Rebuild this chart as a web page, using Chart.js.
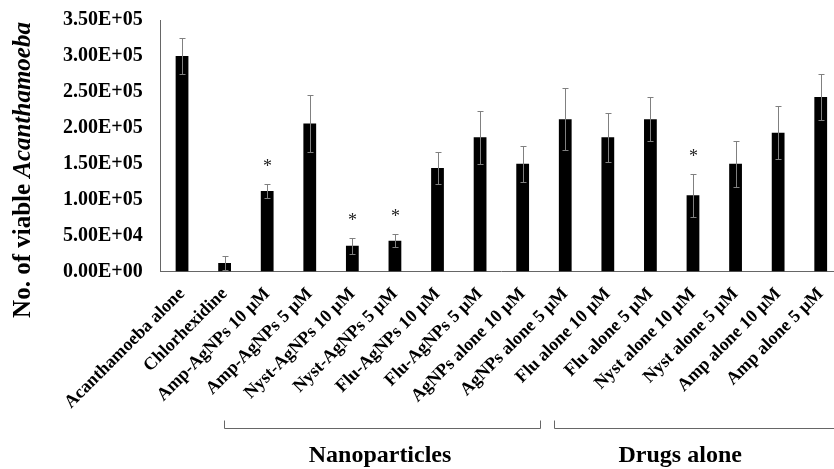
<!DOCTYPE html>
<html>
<head>
<meta charset="utf-8">
<script src="https://cdn.jsdelivr.net/npm/chart.js@4/dist/chart.umd.min.js"></script>
<style>
  html, body { margin: 0; padding: 0; background: #fff; overflow: hidden; width: 834px; height: 469px; }
  #wrap { width: 865px; height: 479px; margin-left: -17px; margin-top: -10px; }
</style>
</head>
<body>
<div id="wrap"><canvas id="c" width="865" height="479"></canvas></div>
<script>
const categories = [
  'Acanthamoeba alone', 'Chlorhexidine', 'Amp-AgNPs 10 µM', 'Amp-AgNPs 5 µM',
  'Nyst-AgNPs 10 µM', 'Nyst-AgNPs 5 µM', 'Flu-AgNPs 10 µM', 'Flu-AgNPs 5 µM',
  'AgNPs alone 10 µM', 'AgNPs alone 5 µM', 'Flu alone 10 µM', 'Flu alone 5 µM',
  'Nyst alone 10 µM', 'Nyst alone 5 µM', 'Amp alone 10 µM', 'Amp alone 5 µM'
];
const viableCounts = [300000, 12000, 112000, 206000, 36000, 43000, 144000, 187000,
                      150000, 212000, 187000, 212000, 106000, 150000, 193000, 243000];
const errorValues = [25000, 10000, 10000, 40000, 11000, 9000, 22000, 37000,
                     25000, 43000, 34000, 31000, 30000, 32000, 37000, 32000];
const significant = [false, false, true, false, true, true, false, false,
                     false, false, false, false, true, false, false, false];
const yTickLabels = ['0.00E+00', '5.00E+04', '1.00E+05', '1.50E+05',
                     '2.00E+05', '2.50E+05', '3.00E+05', '3.50E+05'];
const groupLabels = ['Nanoparticles', 'Drugs alone'];
const groupSpans = [[0.99, 8.41, 4.65], [8.73, 16.5, 11.7]]; // [from, to, text] in category units

const SERIF = '"Liberation Serif", "Times New Roman", serif';
const SHIFT_X = 17; // canvas is shifted left by this much inside the page
const SHIFT_Y = 10; // canvas is shifted up by this much inside the page

const extras = {
  id: 'extras',
  afterDatasetsDraw(chart) {
    const ctx = chart.ctx;
    const x = chart.scales.x, y = chart.scales.y;
    const step = x.getPixelForValue(1) - x.getPixelForValue(0);
    const px = i => x.getPixelForValue(0) + i * step;
    ctx.save();
    // error bars
    ctx.strokeStyle = '#808080';
    ctx.lineWidth = 1;
    viableCounts.forEach((v, i) => {
      const cx = Math.round(px(i)) + 0.5;
      const t = Math.round(y.getPixelForValue(v + errorValues[i])) + 0.5;
      const b = Math.round(y.getPixelForValue(v - errorValues[i])) + 0.5;
      ctx.beginPath();
      ctx.moveTo(cx, t); ctx.lineTo(cx, b);
      ctx.moveTo(cx - 3, t); ctx.lineTo(cx + 3, t);
      ctx.moveTo(cx - 3, b); ctx.lineTo(cx + 3, b);
      ctx.stroke();
      if (significant[i]) {
        ctx.fillStyle = '#222';
        ctx.font = '18px ' + SERIF;
        ctx.textAlign = 'center';
        ctx.textBaseline = 'middle';
        ctx.fillText('*', cx, t - 17);
      }
    });
    // brackets & group labels
    ctx.strokeStyle = '#666';
    groupSpans.forEach((s, g) => {
      const x0 = Math.round(px(s[0])) + 0.5, x1 = Math.round(px(s[1])) + 0.5;
      const yb = 428.5 + SHIFT_Y, yt = 420.5 + SHIFT_Y;
      ctx.beginPath();
      ctx.moveTo(x0, yt); ctx.lineTo(x0, yb); ctx.lineTo(x1, yb); ctx.lineTo(x1, yt);
      ctx.stroke();
      ctx.fillStyle = '#000';
      ctx.font = 'bold 24px ' + SERIF;
      ctx.textAlign = 'center';
      ctx.textBaseline = 'alphabetic';
      ctx.fillText(groupLabels[g], px(s[2]), 462 + SHIFT_Y);
    });
    // y title with italic genus
    ctx.translate(24 + SHIFT_X, 170 + SHIFT_Y);
    ctx.rotate(-Math.PI / 2);
    const p1 = 'No. of viable ', p2 = 'Acanthamoeba';
    const f1 = 'bold 25px ' + SERIF, f2 = 'italic bold 25px ' + SERIF;
    ctx.font = f1; const w1 = ctx.measureText(p1).width;
    ctx.font = f2; const w2 = ctx.measureText(p2).width;
    ctx.textBaseline = 'middle';
    ctx.textAlign = 'left';
    ctx.fillStyle = '#000';
    ctx.font = f1; ctx.fillText(p1, -(w1 + w2) / 2, 0);
    ctx.font = f2; ctx.fillText(p2, -(w1 + w2) / 2 + w1, 0);
    ctx.restore();
  }
};

new Chart(document.getElementById('c'), {
  type: 'bar',
  data: {
    labels: categories,
    datasets: [{
      data: viableCounts,
      backgroundColor: '#000',
      borderColor: '#000',
      borderWidth: 0,
      barPercentage: 0.3,
      categoryPercentage: 1.0
    }]
  },
  options: {
    responsive: false,
    animation: false,
    devicePixelRatio: 1,
    layout: { padding: { left: 62, right: 0, top: 0, bottom: 44 } },
    plugins: { legend: { display: false }, tooltip: { enabled: false } },
    scales: {
      x: {
        grid: { display: false, drawTicks: false },
        border: { display: true, color: '#666', width: 1 },
        ticks: {
          color: '#000',
          font: { family: SERIF, size: 18, weight: 'bold' },
          maxRotation: 45, minRotation: 45, autoSkip: false, padding: 12
        }
      },
      y: {
        min: 0, max: 350000,
        grid: { display: false, drawTicks: false },
        border: { display: true, color: '#666', width: 1 },
        ticks: {
          stepSize: 50000,
          color: '#000',
          padding: 18,
          font: { family: SERIF, size: 20, weight: 'bold' },
          callback: (v, i) => yTickLabels[i]
        }
      }
    }
  },
  plugins: [extras]
});
</script>
</body>
</html>
